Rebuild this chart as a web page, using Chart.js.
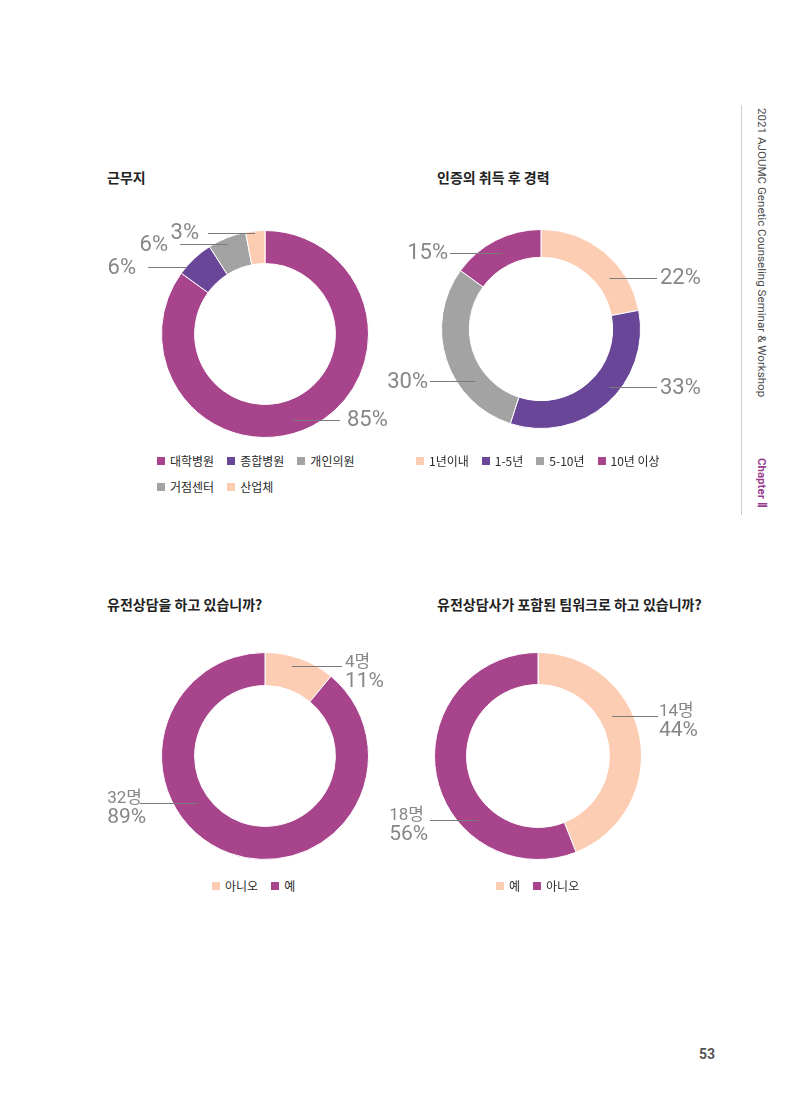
<!DOCTYPE html>
<html>
<head>
<meta charset="utf-8">
<script src="https://cdn.jsdelivr.net/npm/chart.js@4"></script>
<style>
  html, body { margin: 0; padding: 0; background: #fff; }
  #page { position: relative; width: 800px; height: 1106px; overflow: hidden; font-family: "Noto Sans CJK KR", "Noto Sans", sans-serif; }
  .title { position: absolute; font-size: 14px; font-weight: 700; color: #222; line-height: 20px; white-space: nowrap; }
  .box { position: absolute; }
  .legend { position: absolute; display: flex; flex-wrap: wrap; column-gap: 13px; row-gap: 12px; font-size: 12px; color: #2a2a2a; line-height: 14px; }
  .legend span { display: inline-flex; align-items: center; white-space: nowrap; }
  .legend i { display: inline-block; width: 8px; height: 8px; margin-right: 5px; }
  #side-line { position: absolute; left: 741px; top: 105px; width: 1px; height: 410px; background: #cfcfcf; }
  .vtext { position: absolute; transform-origin: 0 0; transform: rotate(90deg); white-space: nowrap; font-family: Roboto, "Noto Sans", sans-serif; }
  #pageno { position: absolute; left: 699px; top: 1046px; font: 700 14px Roboto, sans-serif; color: #555; }
</style>
</head>
<body>
<div id="page">
  <div class="title" style="left:107px; top:167px;">근무지</div>
  <div class="title" style="left:437px; top:167px;">인증의 취득 후 경력</div>
  <div class="title" style="left:107px; top:594px;">유전상담을 하고 있습니까?</div>
  <div class="title" style="left:437px; top:594px;">유전상담사가 포함된 팀워크로 하고 있습니까?</div>

  <div class="box" id="b1"><canvas id="c1"></canvas></div>
  <div class="box" id="b2"><canvas id="c2"></canvas></div>
  <div class="box" id="b3"><canvas id="c3"></canvas></div>
  <div class="box" id="b4"><canvas id="c4"></canvas></div>

  <div class="legend" id="l1" style="left:157px; top:454px; width:220px;"></div>
  <div class="legend" id="l2" style="left:416px; top:454px; width:300px;"></div>
  <div class="legend" id="l3" style="left:212px; top:879px; width:200px;"></div>
  <div class="legend" id="l4" style="left:496px; top:879px; width:200px;"></div>

  <div id="side-line"></div>
  <div class="vtext" style="left:769px; top:108px; font-size:11.6px; color:#4a4a4a;">2021 AJOUMC Genetic Counseling Seminar &amp; Workshop</div>
  <div class="vtext" style="left:769px; top:458px; font-size:11.5px; font-weight:700; color:#9b3d8f;">Chapter Ⅱ</div>
  <div id="pageno">53</div>
</div>

<script>
// colours
var MAGENTA = '#a8448c';
var PURPLE = '#6a4699';
var GRAY = '#a3a3a3';
var PEACH = '#fccdb3';

// 근무지
var workLabels = ['대학병원', '종합병원', '개인의원', '거점센터', '산업체'];
var workPct = [85, 6, 6, 0, 3];
var workColors = [MAGENTA, PURPLE, GRAY, GRAY, PEACH];

// 인증의 취득 후 경력
var careerLabels = ['1년이내', '1-5년', '5-10년', '10년 이상'];
var careerPct = [22, 33, 30, 15];
var careerColors = [PEACH, PURPLE, GRAY, MAGENTA];

// 유전상담을 하고 있습니까?
var counselLabels = ['아니오', '예'];
var counselCount = [4, 32];
var counselPct = [11, 89];
var counselColors = [PEACH, MAGENTA];

// 유전상담사가 포함된 팀워크로 하고 있습니까?
var teamLabels = ['예', '아니오'];
var teamCount = [14, 18];
var teamPct = [44, 56];
var teamColors = [PEACH, MAGENTA];

var leaderPlugin = {
    id: 'leaders',
    afterDatasetsDraw: function (chart, args, opts) {
        var ctx = chart.ctx;
        var meta = chart.getDatasetMeta(0);
        ctx.save();
        opts.specs.forEach(function (s, i) {
            if (!s) return;
            var p = meta.data[i].getProps(['x', 'y', 'startAngle', 'endAngle', 'innerRadius', 'outerRadius'], true);
            var a = p.startAngle + (p.endAngle - p.startAngle) * s.t;
            var r = p.innerRadius + (p.outerRadius - p.innerRadius) * s.r;
            var ax = p.x + r * Math.cos(a);
            var ay = p.y + r * Math.sin(a);
            var ex = p.x + s.x1;
            ctx.strokeStyle = '#7a7a7a';
            ctx.lineWidth = 1;
            ctx.beginPath();
            ctx.moveTo(ax, Math.round(ay) + 0.5);
            ctx.lineTo(ex, Math.round(ay) + 0.5);
            ctx.stroke();

            var lines = opts.texts[i];
            ctx.fillStyle = '#878787';
            ctx.textBaseline = 'middle';
            ctx.textAlign = 'left';
            var fonts, offs;
            if (lines.length === 1) {
                fonts = ['400 22px Roboto, "Noto Sans CJK KR"'];
                offs = [1];
            } else {
                fonts = ['400 17px Roboto, "Noto Sans CJK KR"', '400 21px Roboto, "Noto Sans CJK KR"'];
                offs = [-4, 15];
            }
            var tx;
            if (s.x1 > 0) {
                tx = ex + s.g;
            } else {
                ctx.font = fonts[0];
                tx = ex - s.g - ctx.measureText(lines[0]).width;
            }
            lines.forEach(function (t, k) {
                ctx.font = fonts[k];
                ctx.fillText(t, tx, ay + offs[k]);
            });
        });
        ctx.restore();
    }
};

function makeDonut(id, cx, cy, R, pad, cutout, labels, values, colors, texts, specs) {
    var box = document.getElementById('b' + id);
    var w = 2 * R + pad.l + pad.r;
    var h = 2 * R + pad.t + pad.b;
    box.style.left = (cx - R - pad.l) + 'px';
    box.style.top = (cy - R - pad.t) + 'px';
    box.style.width = w + 'px';
    box.style.height = h + 'px';
    new Chart(document.getElementById('c' + id), {
        type: 'doughnut',
        data: {
            labels: labels,
            datasets: [{
                data: values,
                backgroundColor: colors,
                borderColor: '#ffffff',
                borderWidth: 1
            }]
        },
        options: {
            responsive: true,
            maintainAspectRatio: false,
            animation: false,
            cutout: cutout,
            layout: { padding: { left: pad.l, right: pad.r, top: pad.t, bottom: pad.b } },
            plugins: {
                legend: { display: false },
                tooltip: { enabled: false },
                leaders: { specs: specs, texts: texts }
            }
        },
        plugins: [leaderPlugin]
    });
}

function makeLegend(id, labels, colors) {
    var el = document.getElementById(id);
    labels.forEach(function (l, i) {
        var s = document.createElement('span');
        s.innerHTML = '<i style="background:' + colors[i] + '"></i>' + l;
        el.appendChild(s);
    });
}

function pctText(v) { return [v + '%']; }

makeDonut(1, 265, 334, 104, { l: 170, r: 40, t: 20, b: 10 }, '68%',
    workLabels, workPct, workColors, workPct.map(pctText),
    [{ t: 0.53, r: 0.6, x1: 75, g: 7 },
     { t: 0.2, r: 1, x1: -117, g: 12 },
     { t: 0.47, r: 0.8, x1: -85, g: 12 },
     null,
     { t: 0.48, r: 0.95, x1: -57, g: 9 }]);

makeDonut(2, 541, 329, 100, { l: 65, r: 70, t: 20, b: 20 }, '72%',
    careerLabels, careerPct, careerColors, careerPct.map(pctText),
    [{ t: 0.67, r: 0.5, x1: 116, g: 3 },
     { t: 0.43, r: 0.65, x1: 116, g: 3 },
     { t: 0.31, r: 0.45, x1: -111, g: 2 },
     { t: 0.5, r: 0.5, x1: -91, g: 2 }]);

makeDonut(3, 265, 756, 104, { l: 65, r: 30, t: 20, b: 10 }, '68%',
    counselLabels, counselPct, counselColors,
    counselCount.map(function (c, i) { return [c + '명', counselPct[i] + '%']; }),
    [{ t: 0.42, r: 0.7, x1: 77, g: 3 },
     { t: 0.61, r: 0.36, x1: -125, g: -2 }]);

makeDonut(4, 538, 756, 104, { l: 60, r: 65, t: 20, b: 10 }, '69%',
    teamLabels, teamPct, teamColors,
    teamCount.map(function (c, i) { return [c + '명', teamPct[i] + '%']; }),
    [{ t: 0.39, r: 0.4, x1: 120, g: 1 },
     { t: 0.32, r: 0.5, x1: -108, g: 6 }]);

makeLegend('l1', workLabels, workColors);
makeLegend('l2', careerLabels, careerColors);
makeLegend('l3', counselLabels, counselColors);
makeLegend('l4', teamLabels, teamColors);
</script>
</body>
</html>
